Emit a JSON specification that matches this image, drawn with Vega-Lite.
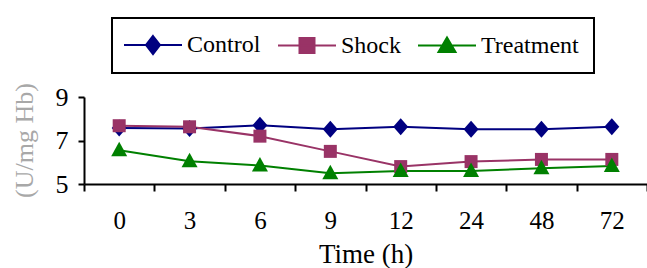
{
  "$schema": "https://vega.github.io/schema/vega-lite/v6.json",
  "width": 563,
  "height": 87,
  "autosize": {"type": "none"},
  "padding": {"left": 84, "top": 97, "right": 0, "bottom": 84},
  "background": "white",
  "data": {"values": [
    {"time": "0", "group": "Control", "value": 7.57},
    {"time": "3", "group": "Control", "value": 7.55},
    {"time": "6", "group": "Control", "value": 7.7},
    {"time": "9", "group": "Control", "value": 7.52},
    {"time": "12", "group": "Control", "value": 7.63},
    {"time": "24", "group": "Control", "value": 7.52},
    {"time": "48", "group": "Control", "value": 7.52},
    {"time": "72", "group": "Control", "value": 7.63},
    {"time": "0", "group": "Shock", "value": 7.68},
    {"time": "3", "group": "Shock", "value": 7.63},
    {"time": "6", "group": "Shock", "value": 7.2},
    {"time": "9", "group": "Shock", "value": 6.5},
    {"time": "12", "group": "Shock", "value": 5.8},
    {"time": "24", "group": "Shock", "value": 6.03},
    {"time": "48", "group": "Shock", "value": 6.13},
    {"time": "72", "group": "Shock", "value": 6.13},
    {"time": "0", "group": "Treatment", "value": 6.55},
    {"time": "3", "group": "Treatment", "value": 6.05},
    {"time": "6", "group": "Treatment", "value": 5.85},
    {"time": "9", "group": "Treatment", "value": 5.5},
    {"time": "12", "group": "Treatment", "value": 5.6},
    {"time": "24", "group": "Treatment", "value": 5.6},
    {"time": "48", "group": "Treatment", "value": 5.72},
    {"time": "72", "group": "Treatment", "value": 5.83}
  ]},
  "encoding": {
    "x": {
      "field": "time", "type": "nominal",
      "sort": ["0", "3", "6", "9", "12", "24", "48", "72"],
      "bandPosition": 0.5,
      "scale": {"type": "band", "paddingInner": 0, "paddingOuter": 0},
      "axis": {
        "title": "Time (h)", "labelAngle": 0, "tickBand": "extent",
        "domainColor": "black", "domainWidth": 2, "tickColor": "black", "tickWidth": 2, "tickSize": 7,
        "labelFont": "Liberation Serif", "labelFontSize": 25, "labelColor": "black", "labelPadding": 17,
        "titleFont": "Liberation Serif", "titleFontSize": 27, "titleFontWeight": "normal", "titleColor": "black", "titlePadding": 8,
        "grid": false
      }
    },
    "y": {
      "field": "value", "type": "quantitative",
      "scale": {"domain": [5, 9], "nice": false, "zero": false},
      "axis": {
        "title": "(U/mg Hb)", "values": [5, 7, 9], "grid": false,
        "domainColor": "black", "domainWidth": 2, "tickColor": "black", "tickWidth": 2, "tickSize": 6,
        "labelFont": "Liberation Serif", "labelFontSize": 26, "labelColor": "black", "labelPadding": 10,
        "titleFont": "Liberation Serif", "titleFontSize": 26, "titleFontWeight": "normal", "titleColor": "#a8a8a8",
        "titleX": -60, "titleY": 43, "titleAngle": -90, "titleAlign": "center", "titleBaseline": "middle"
      }
    },
    "color": {
      "field": "group", "type": "nominal",
      "scale": {"domain": ["Control", "Shock", "Treatment"], "range": ["#000080", "#993366", "#008000"]}
    }
  },
  "layer": [
    {
      "mark": {"type": "line", "strokeWidth": 2},
      "encoding": {
        "color": {
          "field": "group", "type": "nominal",
          "legend": {
            "title": null, "orient": "none", "direction": "horizontal",
            "legendX": 28, "legendY": -79,
            "strokeColor": "black", "padding": 15, "columnPadding": 13,
            "symbolSize": 400, "symbolStrokeWidth": 2, "symbolOffset": 14, "labelOffset": 22,
            "labelFont": "Liberation Serif", "labelFontSize": 24, "labelColor": "black", "labelLimit": 300,
            "encode": {
              "legend": {"update": {"strokeWidth": {"value": 2}}},
              "labels": {"update": {"font": {"value": "Liberation Serif"}, "fontSize": {"value": 24}}},
              "symbols": {"update": {
                "shape": {"signal": "datum.value === 'Control' ? 'M-2.9,0H2.9M0,-0.9L0.7,0L0,0.9L-0.7,0Z' : datum.value === 'Shock' ? 'M-2.9,0H2.9M-0.75,-0.75H0.75V0.75H-0.75Z' : 'M-2.9,0H2.9M0,-0.8L0.85,0.65H-0.85Z'"},
                "fill": {"scale": "color", "field": "value"},
                "stroke": {"scale": "color", "field": "value"},
                "strokeWidth": {"value": 2},
                "opacity": {"value": 1}
              }}
            }
          }
        }
      }
    },
    {
      "transform": [{"filter": "datum.group === 'Control'"}],
      "mark": {"type": "point", "filled": true, "opacity": 1, "size": 400, "strokeWidth": 0, "shape": "M0,-0.85L0.75,0L0,0.85L-0.75,0Z"}
    },
    {
      "transform": [{"filter": "datum.group === 'Shock'"}],
      "mark": {"type": "point", "filled": true, "opacity": 1, "size": 400, "strokeWidth": 0, "shape": "M-0.65,-0.65H0.65V0.65H-0.65Z"}
    },
    {
      "transform": [{"filter": "datum.group === 'Treatment'"}],
      "mark": {"type": "point", "filled": true, "opacity": 1, "size": 400, "strokeWidth": 0, "shape": "M0,-0.85L0.8,0.6H-0.8Z"}
    }
  ],
  "config": {
    "font": "Liberation Serif",
    "view": {"stroke": null},
    "style": {"guide-label": {"font": "Liberation Serif", "fontSize": 24, "fill": "black"}},
    "legend": {"labelFont": "Liberation Serif", "labelFontSize": 24, "labelColor": "black"}
  }
}
